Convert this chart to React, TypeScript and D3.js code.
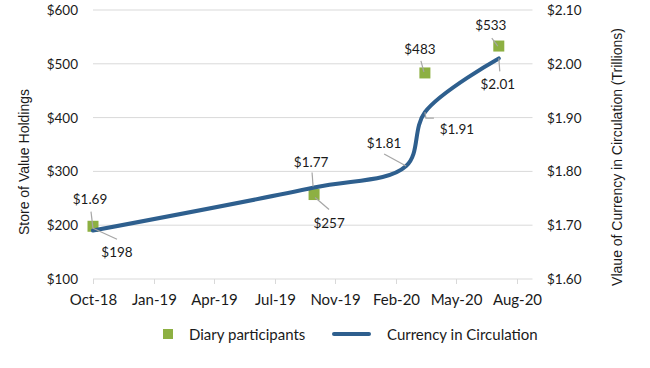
import React from "react";
import * as d3 from "d3";

// ---- data ----
const diaryDates = ["2018-10-01", "2019-10-01", "2020-04-01", "2020-08-01"];
const diaryValues = [198, 257, 483, 533];
const currencyDates = ["2018-10-01", "2019-10-01", "2020-03-01", "2020-04-01", "2020-08-01"];
const currencyValues = [1.69, 1.77, 1.81, 1.91, 2.01];
const xTickDates = ["2018-10-01", "2019-01-09", "2019-04-19", "2019-07-28", "2019-11-05", "2020-02-13", "2020-05-23", "2020-08-31"];
const xTickLabels = ["Oct-18", "Jan-19", "Apr-19", "Jul-19", "Nov-19", "Feb-20", "May-20", "Aug-20"];
const leftTicks = [100, 200, 300, 400, 500, 600];
const rightTicks = [1.6, 1.7, 1.8, 1.9, 2.0, 2.1];
const seriesNames = ["Diary participants", "Currency in Circulation"];
const leftTitle = "Store of Value Holdings";
const rightTitle = "Vlaue of Currency in Circulation (Trillions)";

// ---- layout (label offsets relative to their point, in px) ----
const diaryLabelLayout = [
  { tx: 24, ty: 26, l: [[0, 2], [24, 13]] },
  { tx: 15, ty: 28, l: [[1, 3], [15, 15]] },
  { tx: -5, ty: -24, l: [[-1, -1], [-4, -12]] },
  { tx: -8, ty: -21, l: [[-1, 0], [-7, -8]] },
];
const currencyLabelLayout = [
  { tx: -3, ty: -32, l: [[0, -2], [-2, -19]] },
  { tx: -3, ty: -26, l: [[-1, -1], [-2, -15]] },
  { tx: -22, ty: -23, l: [[0, 0], [-22, -12]] },
  { tx: 32, ty: 17, l: [[0, 0], [1, 6], [9, 6]] },
  { tx: -1, ty: 26, l: [[0, 0], [1, 13]] },
];

const W = 650, H = 368;
const X0 = 93, X1 = 531.5, YTOP = 10, YBOT = 279;
const parse = d3.utcParse("%Y-%m-%d");

export default function App() {
  const x = d3.scaleUtc().domain([parse("2018-10-01")!, parse("2020-09-24")!]).range([X0, X1]);
  const yL = d3.scaleLinear().domain([100, 600]).range([YBOT, YTOP]);
  const yR = d3.scaleLinear().domain([1.6, 2.1]).range([YBOT, YTOP]);

  const diary = diaryDates.map((d, i) => ({ x: x(parse(d)!), y: yL(diaryValues[i]), v: diaryValues[i] }));
  const curr = currencyDates.map((d, i) => ({ x: x(parse(d)!), y: yR(currencyValues[i]), v: currencyValues[i] }));

  const line = d3.line<{ x: number; y: number }>().x((d) => d.x).y((d) => d.y).curve(d3.curveCatmullRom.alpha(0.5));

  const labelFont = "Lato, 'Noto Sans', sans-serif";
  const titleFont = "'Liberation Sans', Arial, sans-serif";
  const grid = "#d9d9d9";
  const txt = "#1a1a1a";
  const blue = "#2e5f8e";
  const green = "#8db042";
  const leader = "#a6a6a6";
  const numSize = 13.5;
  const wordSize = 15;

  return (
    <svg width={W} height={H} style={{ position: "absolute", left: 0, top: 0, background: "#fff" }}>
      {/* gridlines */}
      {leftTicks.slice(1).map((t) => (
        <line key={t} x1={X0} x2={X1 + 1} y1={yL(t)} y2={yL(t)} stroke={grid} strokeWidth={1} />
      ))}
      {/* x axis */}
      <line x1={X0} x2={X1 + 1} y1={YBOT} y2={YBOT} stroke={grid} strokeWidth={1} />
      {xTickDates.map((d, i) => {
        const xx = Math.round(x(parse(d)!)) + 0.5;
        return (
          <g key={d}>
            <line x1={xx} x2={xx} y1={YBOT} y2={YBOT + 5} stroke={grid} />
            <text x={xx} y={299} textAnchor="middle" dominantBaseline="central" fontFamily={labelFont} fontSize={wordSize} fill={txt}>
              {xTickLabels[i]}
            </text>
          </g>
        );
      })}
      {/* left axis labels */}
      {leftTicks.map((t) => (
        <text key={t} x={78} y={yL(t)} textAnchor="end" dominantBaseline="central" fontFamily={labelFont} fontSize={numSize} fill={txt}>
          {d3.format("$,.0f")(t)}
        </text>
      ))}
      {/* right axis labels */}
      {rightTicks.map((t) => (
        <text key={t} x={547} y={yR(t)} textAnchor="start" dominantBaseline="central" fontFamily={labelFont} fontSize={numSize} fill={txt}>
          {d3.format("$.2f")(t)}
        </text>
      ))}
      {/* axis titles */}
      <text transform={`translate(24,162) rotate(-90)`} textAnchor="middle" dominantBaseline="central" fontFamily={titleFont} fontSize={14} fill={txt}>
        {leftTitle}
      </text>
      <text transform={`translate(617,157) rotate(-90)`} textAnchor="middle" dominantBaseline="central" fontFamily={titleFont} fontSize={14} fill={txt}>
        {rightTitle}
      </text>

      {/* diary squares */}
      {diary.map((p, i) => (
        <rect key={i} x={p.x - 5.5} y={p.y - 5.5} width={11} height={11} fill={green} />
      ))}
      {/* currency line */}
      <path d={line(curr) || ""} fill="none" stroke={blue} strokeWidth={4} strokeLinecap="round" />

      {/* leaders & labels */}
      {diary.map((p, i) => {
        const L = diaryLabelLayout[i];
        return (
          <g key={"dl" + i}>
            <polyline points={L.l.map(([a, b]) => `${p.x + a},${p.y + b}`).join(" ")} fill="none" stroke={leader} strokeWidth={1.2} />
            <text x={p.x + L.tx} y={p.y + L.ty} textAnchor="middle" dominantBaseline="central" fontFamily={labelFont} fontSize={numSize} fill={txt}>
              {d3.format("$,.0f")(p.v)}
            </text>
          </g>
        );
      })}
      {curr.map((p, i) => {
        const L = currencyLabelLayout[i];
        return (
          <g key={"cl" + i}>
            <polyline points={L.l.map(([a, b]) => `${p.x + a},${p.y + b}`).join(" ")} fill="none" stroke={leader} strokeWidth={1.2} />
            <text x={p.x + L.tx} y={p.y + L.ty} textAnchor="middle" dominantBaseline="central" fontFamily={labelFont} fontSize={numSize} fill={txt}>
              {d3.format("$.2f")(p.v)}
            </text>
          </g>
        );
      })}

      {/* legend */}
      <rect x={163} y={329} width={10} height={10} fill={green} />
      <text x={189} y={334} dominantBaseline="central" fontFamily={labelFont} fontSize={wordSize} fill={txt}>
        {seriesNames[0]}
      </text>
      <line x1={334} x2={369} y1={334} y2={334} stroke={blue} strokeWidth={4} strokeLinecap="round" />
      <text x={387} y={334} dominantBaseline="central" fontFamily={labelFont} fontSize={wordSize} fill={txt}>
        {seriesNames[1]}
      </text>
    </svg>
  );
}
